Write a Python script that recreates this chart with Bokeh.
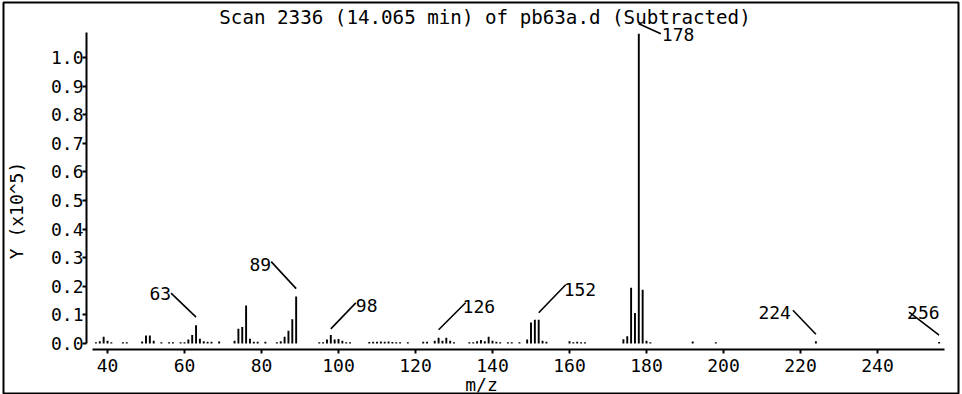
import math
from bokeh.plotting import figure
from bokeh.models import ColumnDataSource, Label, FixedTicker, PrintfTickFormatter, Range1d
from bokeh.core.properties import value
from bokeh.embed import file_html
from bokeh.resources import INLINE

# ---------------- data (intensity in units of 1e5 counts) ----------------
mz = [37, 38, 39, 40, 41, 44, 45, 49, 50, 51, 52, 54, 56, 57, 59,
      60, 61, 62, 63, 64, 65, 66, 67, 69, 73, 74, 75, 76, 77, 78, 79, 81,
      84, 85, 86, 87, 88, 89, 95, 96, 97, 98, 99, 100, 101, 102, 103,
      108, 109, 110, 111, 112, 113, 114, 115, 116, 118, 122, 123,
      125, 126, 127, 128, 129, 130, 134, 135, 136, 137, 138, 139, 140, 141, 142,
      144, 145, 147, 149, 150, 151, 152, 153, 154, 160, 161, 162, 163, 164,
      174, 175, 176, 177, 178, 179, 180, 181, 192, 198, 224, 256]
intensity = [0.004, 0.008, 0.024, 0.010, 0.004, 0.004, 0.004, 0.007, 0.028, 0.028, 0.010, 0.004, 0.004, 0.004, 0.004,
             0.004, 0.014, 0.030, 0.064, 0.017, 0.008, 0.006, 0.006, 0.007, 0.010, 0.052, 0.058, 0.133, 0.017, 0.006, 0.006, 0.006,
             0.004, 0.008, 0.024, 0.045, 0.085, 0.164, 0.004, 0.004, 0.014, 0.030, 0.014, 0.016, 0.010, 0.004, 0.004,
             0.005, 0.006, 0.006, 0.007, 0.006, 0.007, 0.005, 0.004, 0.004, 0.004, 0.006, 0.006,
             0.010, 0.020, 0.010, 0.020, 0.010, 0.004, 0.004, 0.004, 0.008, 0.012, 0.008, 0.024, 0.010, 0.006, 0.004,
             0.004, 0.004, 0.004, 0.014, 0.073, 0.083, 0.083, 0.010, 0.006, 0.008, 0.004, 0.006, 0.004, 0.004,
             0.015, 0.025, 0.195, 0.107, 1.083, 0.188, 0.010, 0.004, 0.007, 0.004, 0.008, 0.005]
label_mz = [63, 89, 98, 126, 152, 178, 224, 256]
x_ticks = [40, 60, 80, 100, 120, 140, 160, 180, 200, 220, 240]
y_ticks = [0.0, 0.1, 0.2, 0.3, 0.4, 0.5, 0.6, 0.7, 0.8, 0.9, 1.0]
title_text = "Scan 2336 (14.065 min) of pb63a.d (Subtracted)"
x_title = "m/z"
y_title = "Y (x10^5)"

# ---------------- layout (page pixel geometry) ----------------
FONT = "DejaVu Sans Mono"
PX_PER_MZ = 3.85      # pixels per m/z unit
PX_PER_Y = 286.0      # pixels per 1.0 (x10^5)
X40_PX = 107          # page x of m/z 40
Y0_PX = 343           # page y of intensity 0
W, H = 960, 394
FRAME_L, FRAME_T, FRAME_R, FRAME_B = 3, 2, 958, 393


def mz_at(px):
    return 40 + (px - X40_PX) / PX_PER_MZ


def val_at(py):
    return (Y0_PX - py) / PX_PER_Y


# leader layout per labelled peak: gap above peak, line dx/dy (px, screen), text align, text dx/dy (px)
leader = {
    63: (8, -25, -24, "right", 0, 0),
    89: (8, -25, -27, "right", 0, 3),
    98: (6, 25, -26, "left", 0, 3),
    126: (8, 27, -27, "left", -3, 4),
    152: (7, 27, -28, "left", -2, 5),
    178: (10, 22, 10, "left", 1, 1),
    224: (7, -23, -24, "right", -2, 2),
    256: (7, -30, -23, "left", -2, 0),
}

peak = dict(zip(mz, intensity))
x0s, y0s, x1s, y1s, tx, ty, tt, ta = [], [], [], [], [], [], [], []
for m in label_mz:
    gap, dx, dy, align, tdx, tdy = leader[m]
    sx = m
    sy = peak[m] + gap / PX_PER_Y
    ex = sx + dx / PX_PER_MZ
    ey = sy - dy / PX_PER_Y
    x0s.append(sx); y0s.append(sy); x1s.append(ex); y1s.append(ey)
    tx.append(ex + tdx / PX_PER_MZ)
    ty.append(ey - tdy / PX_PER_Y)
    tt.append(str(m))
    ta.append(align)

p = figure(width=W, height=H,
           x_range=Range1d(mz_at(FRAME_L), mz_at(FRAME_R)),
           y_range=Range1d(val_at(FRAME_B), val_at(FRAME_T)),
           output_backend="svg", toolbar_location=None,
           min_border_left=FRAME_L, min_border_right=W - FRAME_R,
           min_border_top=FRAME_T, min_border_bottom=H - FRAME_B)
p.xgrid.visible = False
p.ygrid.visible = False
p.outline_line_color = "black"
p.outline_line_width = 2
p.background_fill_color = "white"
p.border_fill_color = "white"

for ax in (p.xaxis[0], p.yaxis[0]):
    ax.axis_line_width = 2
    ax.axis_line_color = "black"
    ax.major_tick_line_width = 2
    ax.major_tick_line_color = "black"
    ax.major_tick_out = 4
    ax.major_tick_in = 0
    ax.minor_tick_line_color = None
    ax.major_label_text_font = FONT
    ax.major_label_text_font_size = "18px"
    ax.major_label_text_color = "black"

xa = p.xaxis[0]
xa.ticker = FixedTicker(ticks=x_ticks)
xa.bounds = (mz_at(92), mz_at(944))
xa.fixed_location = val_at(349)
xa.major_label_standoff = 5

ya = p.yaxis[0]
ya.ticker = FixedTicker(ticks=y_ticks)
ya.formatter = PrintfTickFormatter(format="%.1f")
ya.bounds = (0.0, val_at(32))
ya.fixed_location = mz_at(86)
ya.major_label_standoff = -1

src = ColumnDataSource(dict(mz=mz, intensity=intensity))
p.vbar(x="mz", top="intensity", bottom=0, width=0.5, source=src,
       fill_color="black", line_color=None)

lsrc = ColumnDataSource(dict(x0=x0s, y0=y0s, x1=x1s, y1=y1s, tx=tx, ty=ty, text=tt, align=ta))
p.segment(x0="x0", y0="y0", x1="x1", y1="y1", source=lsrc, line_color="black", line_width=1.6)
p.text(x="tx", y="ty", text="text", text_align="align", text_baseline="middle", source=lsrc,
       text_font=value(FONT), text_font_size="18px", text_color="black")

p.add_layout(Label(x=mz_at(484.5), y=val_at(17), text=title_text, text_align="center",
                   text_baseline="middle", text_font=FONT, text_font_size="19.2px", text_color="black"))
p.add_layout(Label(x=mz_at(481), y=val_at(384), text=x_title, text_align="center",
                   text_baseline="middle", text_font=FONT, text_font_size="18px", text_color="black"))
p.add_layout(Label(x=mz_at(16), y=val_at(210), text=y_title, text_align="center", angle=math.pi / 2,
                   text_baseline="middle", text_font=FONT, text_font_size="18px", text_color="black"))

open("out.html", "w").write(file_html(p, INLINE))
